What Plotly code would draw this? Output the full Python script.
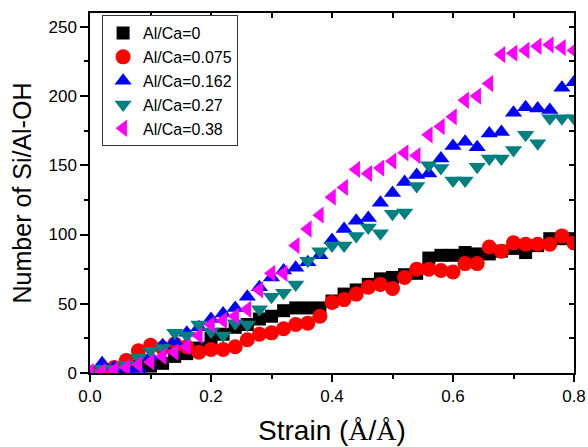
import plotly.graph_objects as go

strain = [round(0.02 * i, 2) for i in range(41)]

s_0 = [0, 1, 2, 3, 5, 5, 7, 12, 14, 18, 25, 28, 33, 35, 39, 41, 45, 47, 47, 47,
       52, 57, 60, 64, 68, 69, 71, 72, 83, 85, 85, 87, 86, 86, 88, 90, 87, 92, 97, 97, 97]
s_075 = [0, 2, 4, 9, 16, 20, 18, 21, 19, 15, 17, 17, 19, 24, 28, 29, 32, 35, 36, 41,
         51, 53, 57, 62, 64, 61, 69, 75, 75, 74, 73, 79, 79, 91, 88, 94, 93, 93, 93, 99, 94]
s_162 = [0, 7, 4, 3, 3, 12, 20, 23, 29, 33, 39, 43, 47, 55, 62, 69, 74, 76, 80, 85,
         96, 104, 110, 112, 123, 130, 138, 143, 144, 155, 164, 167, 163, 173, 174, 188, 192, 191, 190, 206, 210]
s_27 = [0, 3, 3, 6, 11, 16, 18, 29, 27, 35, 30, 27, 36, 35, 46, 55, 58, 64, 81, 88,
        92, 92, 99, 105, 101, 115, 116, 135, 150, 148, 139, 139, 149, 155, 155, 161, 172, 166, 184, 184, 184]
s_38 = [1, 1, 2, 4, 6, 8, 12, 15, 19, 27, 35, 38, 41, 46, 60, 72, 72, 92, 104, 114,
        127, 134, 147, 144, 148, 153, 159, 157, 172, 178, 185, 197, 200, 209, 230, 231, 233, 236, 237, 235, 233]

series = [
    ("Al/Ca=0", s_0, "square", "#000000", 13),
    ("Al/Ca=0.075", s_075, "circle", "#ff0000", 15),
    ("Al/Ca=0.162", s_162, "triangle-up", "#0000ff", 15),
    ("Al/Ca=0.27", s_27, "triangle-down", "#008080", 15),
    ("Al/Ca=0.38", s_38, "triangle-left", "#ff00ff", 15),
]

fig = go.Figure()
for name, vals, sym, col, sz in series:
    fig.add_trace(go.Scatter(
        x=strain, y=vals, mode="markers", name=name,
        marker=dict(symbol=sym, color=col, size=sz, line=dict(width=0)),
    ))

# dummy trace to activate mirrored (top/right) axes with inward ticks
fig.add_trace(go.Scatter(x=[None], y=[None], xaxis="x2", yaxis="y2",
                         showlegend=False, hoverinfo="skip"))

font_family = "Liberation Sans, Arial, sans-serif"

fig.update_layout(
    width=588, height=447,
    margin=dict(l=90, r=14, t=13, b=74, autoexpand=False),
    paper_bgcolor="white", plot_bgcolor="white",
    font=dict(family=font_family, color="black", size=17),
    showlegend=True,
    legend=dict(
        x=0.025, y=0.994, xanchor="left", yanchor="top",
        bgcolor="white", bordercolor="#333333", borderwidth=1,
        font=dict(size=16, family=font_family), tracegroupgap=0,
    ),
    xaxis=dict(
        range=[0, 0.8], dtick=0.2, tick0=0, tickformat=".1f",
        ticks="outside", ticklen=7, tickwidth=1.5, tickcolor="black",
        minor=dict(dtick=0.1, ticks="outside", ticklen=4, tickwidth=1.5, tickcolor="black"),
        showline=True, linecolor="black", linewidth=1.5,
        showgrid=False, zeroline=False, automargin=False,
        tickfont=dict(size=17),
        title=dict(
            text="Strain (<span style='font-family:Liberation Serif'>Å</span>/<span style='font-family:Liberation Serif'>Å</span>)",
            font=dict(size=28), standoff=15),
    ),
    yaxis=dict(
        range=[0, 260], dtick=50, tick0=0,
        ticks="outside", ticklen=8, tickwidth=1.5, tickcolor="black",
        minor=dict(dtick=25, ticks="outside", ticklen=4, tickwidth=1.5, tickcolor="black"),
        showline=True, linecolor="black", linewidth=1.5,
        showgrid=False, zeroline=False, automargin=False,
        tickfont=dict(size=17),
        title=dict(text="Number of Si/Al-OH", font=dict(size=25), standoff=10),
    ),
    xaxis2=dict(
        overlaying="x", side="top", range=[0, 0.8], dtick=0.1, tick0=0,
        ticks="inside", ticklen=5, tickwidth=1.5, tickcolor="black",
        showticklabels=False, showline=True, linecolor="black", linewidth=1.5,
        showgrid=False, zeroline=False, automargin=False,
    ),
    yaxis2=dict(
        overlaying="y", side="right", range=[0, 260], dtick=25, tick0=0,
        ticks="inside", ticklen=5, tickwidth=1.5, tickcolor="black",
        showticklabels=False, showline=True, linecolor="black", linewidth=1.5,
        showgrid=False, zeroline=False, automargin=False,
    ),
)

fig.write_html("out.html")
